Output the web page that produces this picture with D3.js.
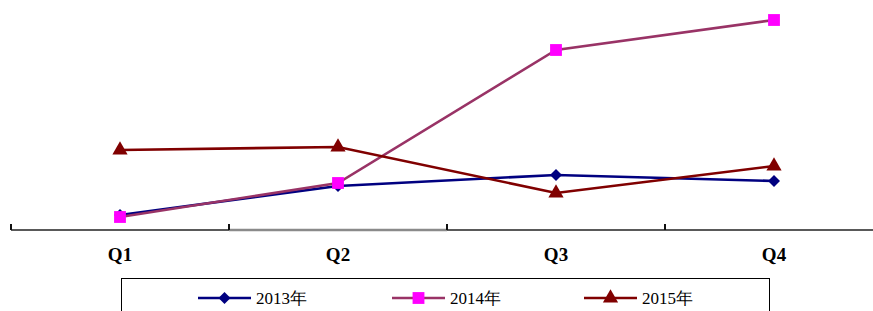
<!DOCTYPE html>
<html>
<head>
<meta charset="utf-8">
<script src="https://cdn.jsdelivr.net/npm/d3@7"></script>
<style>
  body { margin: 0; background: #fff; }
  svg { display: block; }
  text { font-family: "Liberation Serif", "Times New Roman", serif; }
</style>
</head>
<body>
<div id="chart"></div>
<script>
var categories = ["Q1", "Q2", "Q3", "Q4"];
var seriesNames = ["2013年", "2014年", "2015年"];
var values2013 = [14, 43, 54, 48];
var values2014 = [12, 46, 179, 209];
var values2015 = [79, 82, 36, 63];

var W = 873, H = 311;
var margin = {top: 9, right: -10, bottom: 82, left: 11};
var width = W - margin.left - margin.right,
    height = H - margin.top - margin.bottom;

var svg = d3.select("#chart").append("svg")
    .attr("width", W)
    .attr("height", H);

var g = svg.append("g")
    .attr("transform", "translate(" + margin.left + "," + margin.top + ")");

var x = d3.scaleBand()
    .domain(categories)
    .range([0, width])
    .padding(0);

var y = d3.scaleLinear()
    .domain([0, 220])
    .range([height, 0]);

// rot: rotate the symbol (square -> diamond)
var series = [
  {name: seriesNames[0], values: values2013, line: "#000080", fill: "#000080", shape: d3.symbolSquare, size: 72, rot: 45},
  {name: seriesNames[1], values: values2014, line: "#993366", fill: "#ff00ff", shape: d3.symbolSquare, size: 140, rot: 0},
  {name: seriesNames[2], values: values2015, line: "#800000", fill: "#800000", shape: d3.symbolTriangle, size: 100, rot: 0}
];

// x axis
var xAxis = g.append("g")
    .attr("transform", "translate(0," + (height + 1) + ")")
    .call(d3.axisBottom(x).tickSize(0).tickPadding(18));
xAxis.select(".domain").remove();
xAxis.selectAll("text")
    .attr("font-family", "'Liberation Serif', 'Times New Roman', serif")
    .attr("font-size", 19)
    .attr("font-weight", "bold")
    .attr("fill", "#000");

g.append("line")
    .attr("x1", 0).attr("x2", W)
    .attr("y1", height + 1).attr("y2", height + 1)
    .attr("stroke", "#222")
    .attr("stroke-width", 1.6);

// lighter segment under Q2
g.append("line")
    .attr("x1", x("Q2")).attr("x2", x("Q3"))
    .attr("y1", height + 1).attr("y2", height + 1)
    .attr("stroke", "#8a8a8a")
    .attr("stroke-width", 2.6);

g.selectAll(".tick-mark")
    .data(categories)
  .enter().append("line")
    .attr("class", "tick-mark")
    .attr("x1", d => x(d)).attr("x2", d => x(d))
    .attr("y1", height - 5).attr("y2", height + 1)
    .attr("stroke", "#111")
    .attr("stroke-width", 2);

var line = d3.line()
    .x((d, i) => x(categories[i]) + x.bandwidth() / 2)
    .y(d => y(d));

series.forEach(function(s) {
  g.append("path")
      .datum(s.values)
      .attr("fill", "none")
      .attr("stroke", s.line)
      .attr("stroke-width", 2.6)
      .attr("d", line);
});

series.forEach(function(s) {
  g.selectAll(null)
      .data(s.values)
    .enter().append("path")
      .attr("transform", (d, i) => "translate(" + (x(categories[i]) + x.bandwidth() / 2) + "," + y(d) + ") rotate(" + s.rot + ")")
      .attr("d", d3.symbol().type(s.shape).size(s.size))
      .attr("fill", s.fill);
});

// legend
var legend = svg.append("g");
legend.append("rect")
    .attr("x", 121.5).attr("y", 278.5)
    .attr("width", 648).attr("height", 40)
    .attr("fill", "#fff")
    .attr("stroke", "#000")
    .attr("stroke-width", 1);

var legendX = [198, 392, 584];
series.forEach(function(s, i) {
  var lg = legend.append("g").attr("transform", "translate(" + legendX[i] + ",298)");
  lg.append("line")
      .attr("x1", 0).attr("x2", 53)
      .attr("stroke", s.line)
      .attr("stroke-width", 2.6);
  lg.append("path")
      .attr("transform", "translate(26.5,0) rotate(" + s.rot + ")")
      .attr("d", d3.symbol().type(s.shape).size(s.size))
      .attr("fill", s.fill);
  lg.append("text")
      .attr("x", 58)
      .attr("y", 6)
      .attr("font-size", 17)
      .attr("fill", "#000")
      .text(s.name);
});
</script>
</body>
</html>
